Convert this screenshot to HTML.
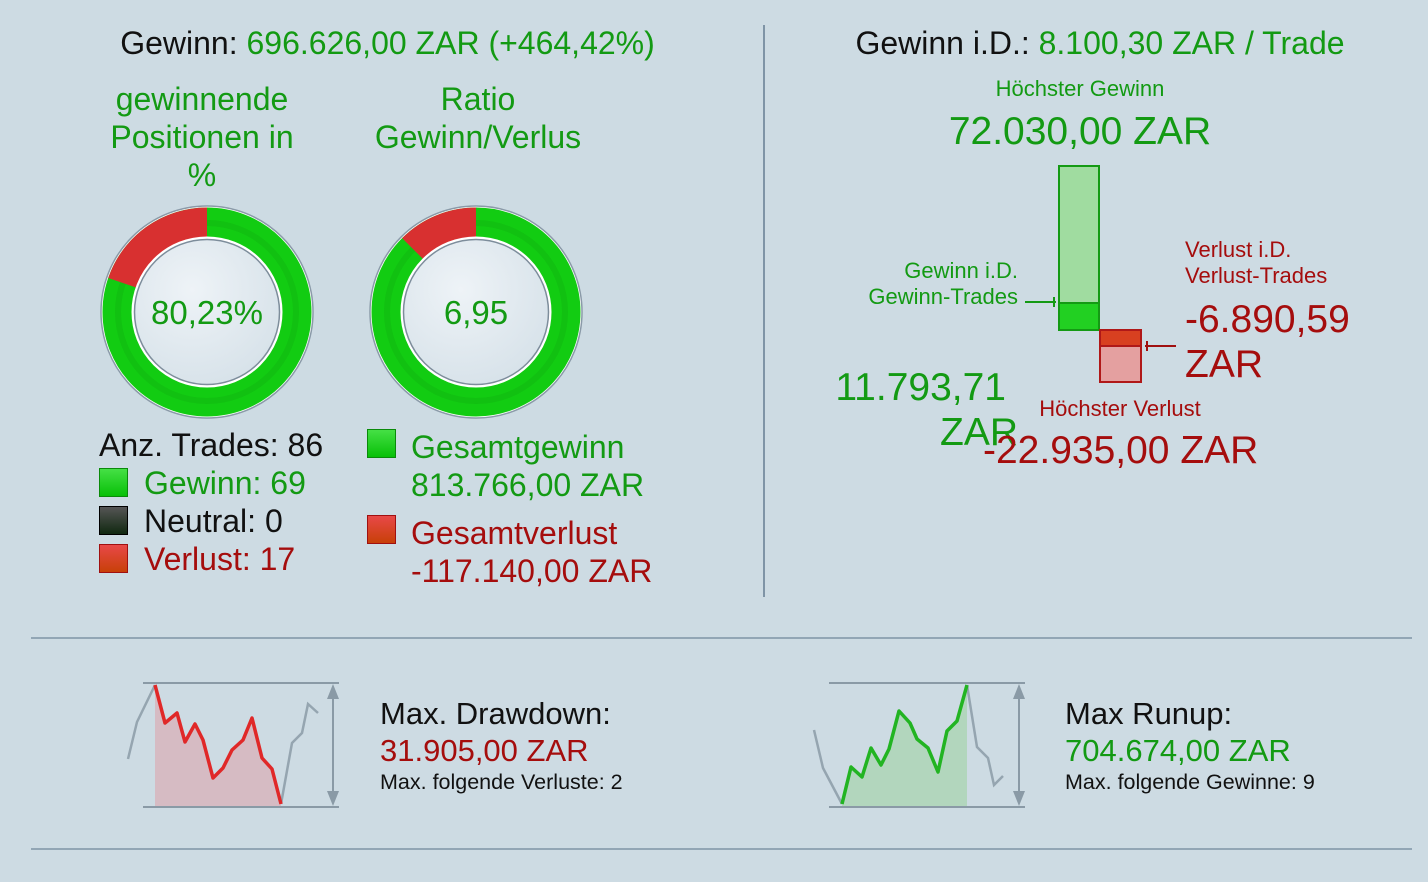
<!DOCTYPE html>
<html><head><meta charset="utf-8"><style>
body{margin:0;width:1428px;height:882px;background:#cddbe3;font-family:"Liberation Sans",sans-serif;position:relative;overflow:hidden}
.t{position:absolute;white-space:nowrap;line-height:1}
.g{color:#139a13}.r{color:#a50d0d}.k{color:#111}
.sq{position:absolute;width:29px;height:29px;box-sizing:border-box}
.sg{background:linear-gradient(#45e045,#08c008);border:1.5px solid #0a8a0a}
.sr{background:linear-gradient(#e84848,#c84008);border:1.5px solid #a01010}
.sk{background:linear-gradient(#555,#102810);border:1.5px solid #000}
</style></head><body>
<div class="t k" style="left:0;width:775px;text-align:center;top:27px;font-size:32px">Gewinn: <span class="g">696.626,00 ZAR (+464,42%)</span></div>
<div class="t g" style="left:102px;width:200px;text-align:center;top:80px;font-size:32px;line-height:38px;white-space:normal">gewinnende Positionen in %</div>
<div class="t g" style="left:358px;width:240px;text-align:center;top:80px;font-size:32px;line-height:38px">Ratio<br>Gewinn/Verlus</div>
<svg width="1428" height="882" style="position:absolute;left:0;top:0">
<defs><radialGradient id="ig" cx="0.4" cy="0.35" r="0.8"><stop offset="0" stop-color="#eef3f7"/><stop offset="1" stop-color="#d3dfe7"/></radialGradient></defs>
<g>
<circle cx="207" cy="312" r="106" fill="#fff" stroke="#8a9aa8" stroke-width="1.5"/>
<circle cx="207" cy="312" r="89" fill="none" stroke="#12cc12" stroke-width="31"/>
<circle cx="207" cy="312" r="89" fill="none" stroke="#0fb60f" stroke-width="6" opacity="0.5"/>
<path d="M207 223 A89 89 0 0 0 122.9 283" fill="none" stroke="#d83030" stroke-width="31"/>
<circle cx="207" cy="312" r="74" fill="url(#ig)" stroke="#fff" stroke-width="3"/>
<circle cx="207" cy="312" r="72.5" fill="none" stroke="#7d8d9b" stroke-width="1.5"/>
</g>
<g>
<circle cx="476" cy="312" r="106" fill="#fff" stroke="#8a9aa8" stroke-width="1.5"/>
<circle cx="476" cy="312" r="89" fill="none" stroke="#12cc12" stroke-width="31"/>
<circle cx="476" cy="312" r="89" fill="none" stroke="#0fb60f" stroke-width="6" opacity="0.5"/>
<path d="M476 223 A89 89 0 0 0 413.1 249.1" fill="none" stroke="#d83030" stroke-width="31"/>
<circle cx="476" cy="312" r="74" fill="url(#ig)" stroke="#fff" stroke-width="3"/>
<circle cx="476" cy="312" r="72.5" fill="none" stroke="#7d8d9b" stroke-width="1.5"/>
</g>
<line x1="764" y1="25" x2="764" y2="597" stroke="#7f94a6" stroke-width="2"/>
<line x1="31" y1="638" x2="1412" y2="638" stroke="#7f94a6" stroke-width="1.5"/>
<line x1="31" y1="849" x2="1412" y2="849" stroke="#7f94a6" stroke-width="1.5"/>
<rect x="1059" y="166" width="40" height="164" fill="#a0dca0" stroke="#149a14" stroke-width="2"/>
<rect x="1059" y="303" width="40" height="27" fill="#22d022" stroke="#149a14" stroke-width="2"/>
<rect x="1100" y="330" width="41" height="52" fill="#e4a0a0" stroke="#b01818" stroke-width="2"/>
<rect x="1100" y="330" width="41" height="16" fill="#d84020" stroke="#b01818" stroke-width="2"/>
<line x1="1025" y1="302" x2="1056" y2="302" stroke="#149a14" stroke-width="2"/>
<line x1="1054" y1="297" x2="1054" y2="307" stroke="#149a14" stroke-width="2"/>
<line x1="1176" y1="346" x2="1145" y2="346" stroke="#a01010" stroke-width="2"/>
<line x1="1147" y1="341" x2="1147" y2="351" stroke="#a01010" stroke-width="2"/>
<polygon points="155,685 165,723 177,713 185,742 195,724 203,740 213,778 223,768 232,750 243,740 252,718 262,758 272,769 281,804 281,806 155,806" fill="#d8b0b8" opacity="0.75"/>
<line x1="143" y1="683" x2="339" y2="683" stroke="#8a9aa6" stroke-width="2"/>
<line x1="143" y1="807" x2="339" y2="807" stroke="#8a9aa6" stroke-width="2"/>
<polyline points="128,759 137,722 155,685" fill="none" stroke="#95a5b0" stroke-width="2.5"/>
<polyline points="281,804 292,743 302,733 308,704 318,713" fill="none" stroke="#95a5b0" stroke-width="2.5"/>
<polyline points="155,685 165,723 177,713 185,742 195,724 203,740 213,778 223,768 232,750 243,740 252,718 262,758 272,769 281,804" fill="none" stroke="#e02828" stroke-width="3.5" stroke-linejoin="round"/>
<line x1="333" y1="690" x2="333" y2="800" stroke="#8a9aa6" stroke-width="2"/>
<polygon points="333,684 327,699 339,699" fill="#8a9aa6"/><polygon points="333,806 327,791 339,791" fill="#8a9aa6"/>
<polygon points="842,804 851,767 862,777 871,748 881,765 889,749 899,711 910,723 917,739 928,748 938,772 947,731 957,721 967,685 967,806 842,806" fill="#a8d4b0" opacity="0.75"/>
<line x1="829" y1="683" x2="1025" y2="683" stroke="#8a9aa6" stroke-width="2"/>
<line x1="829" y1="807" x2="1025" y2="807" stroke="#8a9aa6" stroke-width="2"/>
<polyline points="814,730 823,768 842,804" fill="none" stroke="#95a5b0" stroke-width="2.5"/>
<polyline points="967,685 977,747 988,758 994,785 1003,776" fill="none" stroke="#95a5b0" stroke-width="2.5"/>
<polyline points="842,804 851,767 862,777 871,748 881,765 889,749 899,711 910,723 917,739 928,748 938,772 947,731 957,721 967,685" fill="none" stroke="#22b422" stroke-width="3.5" stroke-linejoin="round"/>
<line x1="1019" y1="690" x2="1019" y2="800" stroke="#8a9aa6" stroke-width="2"/>
<polygon points="1019,684 1013,699 1025,699" fill="#8a9aa6"/><polygon points="1019,806 1013,791 1025,791" fill="#8a9aa6"/>
</svg>
<div class="t g" style="left:107px;width:200px;text-align:center;top:296px;font-size:33px">80,23%</div>
<div class="t g" style="left:376px;width:200px;text-align:center;top:296px;font-size:33px">6,95</div>
<div class="t k" style="left:99px;top:429px;font-size:32px">Anz. Trades: 86</div>
<div class="sq sg" style="left:99px;top:468px"></div><div class="t g" style="left:144px;top:467px;font-size:32px">Gewinn: 69</div>
<div class="sq sk" style="left:99px;top:506px"></div><div class="t k" style="left:144px;top:505px;font-size:32px">Neutral: 0</div>
<div class="sq sr" style="left:99px;top:544px"></div><div class="t r" style="left:144px;top:543px;font-size:32px">Verlust: 17</div>
<div class="sq sg" style="left:367px;top:429px"></div><div class="t g" style="left:411px;top:428px;font-size:32px;line-height:38px">Gesamtgewinn<br>813.766,00 ZAR</div>
<div class="sq sr" style="left:367px;top:515px"></div><div class="t r" style="left:411px;top:514px;font-size:32px;line-height:38px">Gesamtverlust<br>-117.140,00 ZAR</div>
<div class="t k" style="left:800px;width:600px;text-align:center;top:27px;font-size:32px">Gewinn i.D.: <span class="g">8.100,30 ZAR / Trade</span></div>
<div class="t g" style="left:930px;width:300px;text-align:center;top:78px;font-size:22px">Höchster Gewinn</div>
<div class="t g" style="left:930px;width:300px;text-align:center;top:112px;font-size:39px">72.030,00 ZAR</div>
<div class="t g" style="left:818px;width:200px;text-align:right;top:258px;font-size:22px;line-height:26px">Gewinn i.D.<br>Gewinn-Trades</div>
<div class="t r" style="left:1185px;top:237px;font-size:22px;line-height:26px">Verlust i.D.<br>Verlust-Trades</div>
<div class="t r" style="left:1185px;top:297px;font-size:39px;line-height:45px">-6.890,59<br>ZAR</div>
<div class="t g" style="left:806px;width:200px;text-align:right;top:365px;font-size:39px;line-height:45px">11.793,71</div>
<div class="t g" style="left:806px;width:212px;text-align:right;top:410px;font-size:39px;line-height:45px">ZAR</div>
<div class="t r" style="left:1000px;width:240px;text-align:center;top:398px;font-size:22px">Höchster Verlust</div>
<div class="t r" style="left:983px;top:431px;font-size:39px">-22.935,00 ZAR</div>
<div class="t k" style="left:380px;top:698px;font-size:31px">Max. Drawdown:</div>
<div class="t r" style="left:380px;top:735px;font-size:31px">31.905,00 ZAR</div>
<div class="t k" style="left:380px;top:772px;font-size:21.5px">Max. folgende Verluste: 2</div>
<div class="t k" style="left:1065px;top:698px;font-size:31px">Max Runup:</div>
<div class="t g" style="left:1065px;top:735px;font-size:31px">704.674,00 ZAR</div>
<div class="t k" style="left:1065px;top:772px;font-size:21.5px">Max. folgende Gewinne: 9</div>
</body></html>
